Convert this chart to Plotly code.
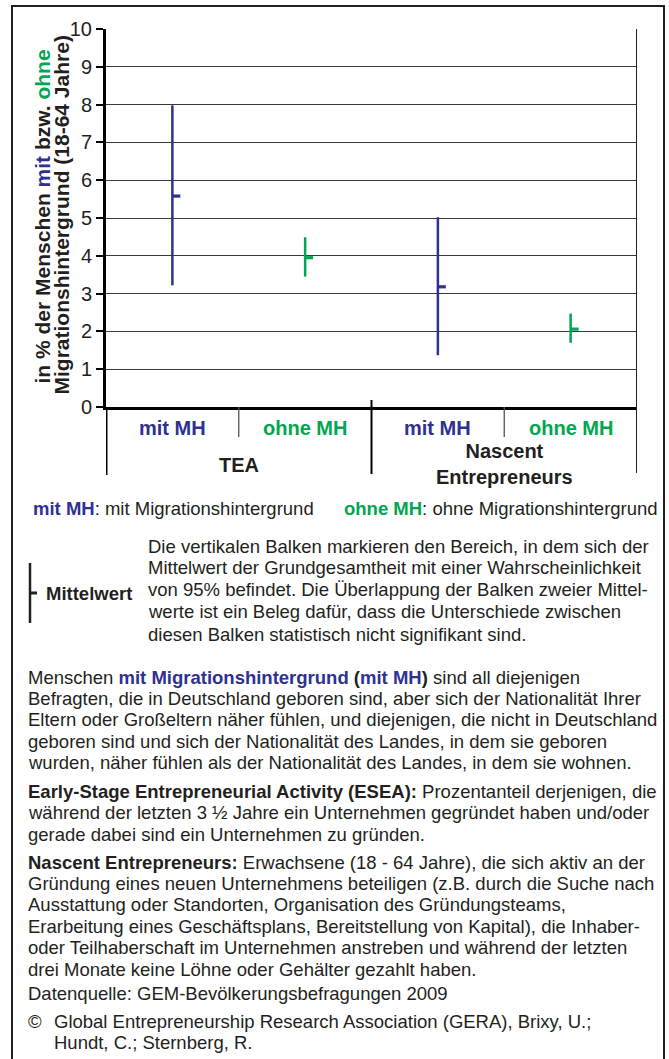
import plotly.graph_objects as go

# ---------------- data ----------------
categories = ["mit MH", "ohne MH", "mit MH", "ohne MH"]
group_names = ["TEA", "Nascent<br>Entrepreneurs"]
group_members = [[0, 1], [2, 3]]
mean_vals = [5.58, 3.95, 3.18, 2.06]
ci_low = [3.22, 3.45, 1.37, 1.70]
ci_high = [7.98, 4.49, 5.02, 2.47]
y_ticks = [0, 1, 2, 3, 4, 5, 6, 7, 8, 9, 10]

BLUE = "#2E3192"
GREEN = "#00A651"
DARK = "#231F20"
cat_colors = [BLUE, GREEN, BLUE, GREEN]

W, H = 669, 1059
FONT = "Liberation Sans, Arial, sans-serif"


def px(x):
    return x / W


def py(y):
    return 1 - y / H


fig = go.Figure()

for i, cat in enumerate(categories):
    c = cat_colors[i]
    fig.add_trace(go.Scatter(
        x=[i], y=[mean_vals[i]], mode="markers",
        marker=dict(size=1, color="rgba(0,0,0,0)"),
        error_y=dict(type="data", symmetric=False,
                     array=[ci_high[i] - mean_vals[i]],
                     arrayminus=[mean_vals[i] - ci_low[i]],
                     width=0, thickness=2.5, color=c),
        error_x=dict(type="constant", symmetric=False, value=0.06, valueminus=0,
                     width=0, thickness=3.2, color=c),
        showlegend=False, hoverinfo="skip", name=cat,
    ))

fig.update_layout(
    width=W, height=H, autosize=False,
    margin=dict(l=0, r=0, t=0, b=0, pad=0, autoexpand=False),
    paper_bgcolor="white", plot_bgcolor="white",
    font=dict(family=FONT, color=DARK),
    showlegend=False,
    xaxis=dict(domain=[px(106), px(637)], range=[-0.5, 3.5], automargin=False,
               showticklabels=False, ticks="", showgrid=False, zeroline=False,
               showline=True, linewidth=3, linecolor="black", fixedrange=True),
    yaxis=dict(domain=[py(407), py(29)], range=[0, 10], tickvals=y_ticks,
               automargin=False,
               ticks="outside", ticklen=7, tickwidth=1.5, tickcolor="black",
               showline=True, linewidth=3, linecolor="black",
               showgrid=True, gridcolor="#3a3a3a", gridwidth=1.3, zeroline=False,
               tickfont=dict(size=20, color=DARK, family=FONT), fixedrange=True),
)

shapes = []
# outer frame
shapes.append(dict(type="rect", xref="paper", yref="paper",
                   x0=px(12), x1=px(664), y0=py(1075), y1=py(6),
                   line=dict(color=DARK, width=2), fillcolor="rgba(0,0,0,0)", layer="below"))
# right border of plot + extension
shapes.append(dict(type="line", xref="x", yref="paper", x0=3.5, x1=3.5,
                   y0=py(473), y1=py(29), line=dict(color="#222", width=2)))
# left axis extension
shapes.append(dict(type="line", xref="x", yref="paper", x0=-0.5, x1=-0.5,
                   y0=py(475), y1=py(407), line=dict(color="black", width=3)))
# group divider
shapes.append(dict(type="line", xref="x", yref="paper", x0=1.5, x1=1.5,
                   y0=py(474), y1=py(400), line=dict(color="black", width=2)))
# category dividers inside groups
for g in group_members:
    xm = (g[0] + g[1]) / 2
    shapes.append(dict(type="line", xref="x", yref="paper", x0=xm, x1=xm,
                       y0=py(437), y1=py(407), line=dict(color="#555", width=1.3)))
# Mittelwert legend icon
shapes.append(dict(type="line", xref="paper", yref="paper", x0=px(30), x1=px(30),
                   y0=py(623), y1=py(563), line=dict(color=DARK, width=2.5)))
shapes.append(dict(type="line", xref="paper", yref="paper", x0=px(30), x1=px(37),
                   y0=py(593), y1=py(593), line=dict(color=DARK, width=3)))
fig.update_layout(shapes=shapes)

ann = []
# category labels
for i, cat in enumerate(categories):
    ann.append(dict(x=i, xref="x", y=py(428), yref="paper", text="<b>" + cat + "</b>",
                    showarrow=False, xanchor="center", yanchor="middle",
                    font=dict(size=20, color=cat_colors[i], family=FONT)))
# group labels
group_y = [465, 463.5]
for gname, g, yy in zip(group_names, group_members, group_y):
    xm = (g[0] + g[1]) / 2
    ann.append(dict(x=xm, xref="x", y=py(yy), yref="paper", text="<b>" + gname + "</b>",
                    showarrow=False, xanchor="center", yanchor="middle",
                    font=dict(size=20, color=DARK, family=FONT)))


def colored(s, c):
    return "<span style='color:" + c + "'>" + s + "</span>"


def blue_b(s):
    return "<b>" + colored(s, BLUE) + "</b>"


def green_b(s):
    return "<b>" + colored(s, GREEN) + "</b>"


# y-axis title (two rotated lines)
ytitle1 = ("<b>in % der Menschen " + colored("mit", BLUE) + " bzw. "
           + colored("ohne", GREEN) + "</b>")
ytitle2 = "<b>Migrationshintergrund (18-64 Jahre)</b>"
ann.append(dict(x=px(41.5), y=py(217), xref="paper", yref="paper", text=ytitle1,
                textangle=-90, showarrow=False, xanchor="center", yanchor="middle",
                font=dict(size=21, color=DARK, family=FONT)))
ann.append(dict(x=px(61), y=py(215.5), xref="paper", yref="paper", text=ytitle2,
                textangle=-90, showarrow=False, xanchor="center", yanchor="middle",
                font=dict(size=21, color=DARK, family=FONT)))

text_lines = [
    # (x, y, text)
    (31, 508, blue_b("mit MH") + ": mit Migrationshintergrund"),
    (342, 508, green_b("ohne MH") + ": ohne Migrationshintergrund"),
    (44, 593, "<b>Mittelwert</b>"),
    (146, 546.7, "Die vertikalen Balken markieren den Bereich, in dem sich der"),
    (146, 567.3, "Mittelwert der Grundgesamtheit mit einer Wahrscheinlichkeit"),
    (146, 589, "von 95% befindet. Die Überlappung der Balken zweier Mittel-"),
    (146, 611.7, "werte ist ein Beleg dafür, dass die Unterschiede zwischen"),
    (146, 634, "diesen Balken statistisch nicht signifikant sind."),
    (26, 677, "Menschen " + blue_b("mit Migrationshintergrund") + " <b>(</b>"
     + blue_b("mit MH") + "<b>)</b> sind all diejenigen"),
    (26, 698.3, "Befragten, die in Deutschland geboren sind, aber sich der Nationalität Ihrer"),
    (26, 719.6, "Eltern oder Großeltern näher fühlen, und diejenigen, die nicht in Deutschland"),
    (26, 741, "geboren sind und sich der Nationalität des Landes, in dem sie geboren"),
    (26, 762.3, "wurden, näher fühlen als der Nationalität des Landes, in dem sie wohnen."),
    (26, 791, "<b>Early-Stage Entrepreneurial Activity (ESEA):</b> Prozentanteil derjenigen, die"),
    (26, 812.5, "während der letzten 3 ½ Jahre ein Unternehmen gegründet haben und/oder"),
    (26, 834, "gerade dabei sind ein Unternehmen zu gründen."),
    (26, 862, "<b>Nascent Entrepreneurs:</b> Erwachsene (18 - 64 Jahre), die sich aktiv an der"),
    (26, 883.4, "Gründung eines neuen Unternehmens beteiligen (z.B. durch die Suche nach"),
    (26, 904.8, "Ausstattung oder Standorten, Organisation des Gründungsteams,"),
    (26, 926.2, "Erarbeitung eines Geschäftsplans, Bereitstellung von Kapital), die Inhaber-"),
    (26, 947.6, "oder Teilhaberschaft im Unternehmen anstreben und während der letzten"),
    (26, 969, "drei Monate keine Löhne oder Gehälter gezahlt haben."),
    (26, 993, "Datenquelle: GEM-Bevölkerungsbefragungen 2009"),
    (26, 1021, "©"),
    (52, 1021, "Global Entrepreneurship Research Association (GERA), Brixy, U.;"),
    (52, 1042, "Hundt, C.; Sternberg, R."),
]
for x, y, t in text_lines:
    ann.append(dict(x=px(x), y=py(y), xref="paper", yref="paper", text=t,
                    showarrow=False, xanchor="left", yanchor="middle", align="left",
                    font=dict(size=18.5, color=DARK, family=FONT)))

fig.update_layout(annotations=ann)
fig.write_html(
    "out.html",
    config={"displayModeBar": False},
    post_script="document.body.style.margin='0px';document.body.style.overflow='hidden';",
)
